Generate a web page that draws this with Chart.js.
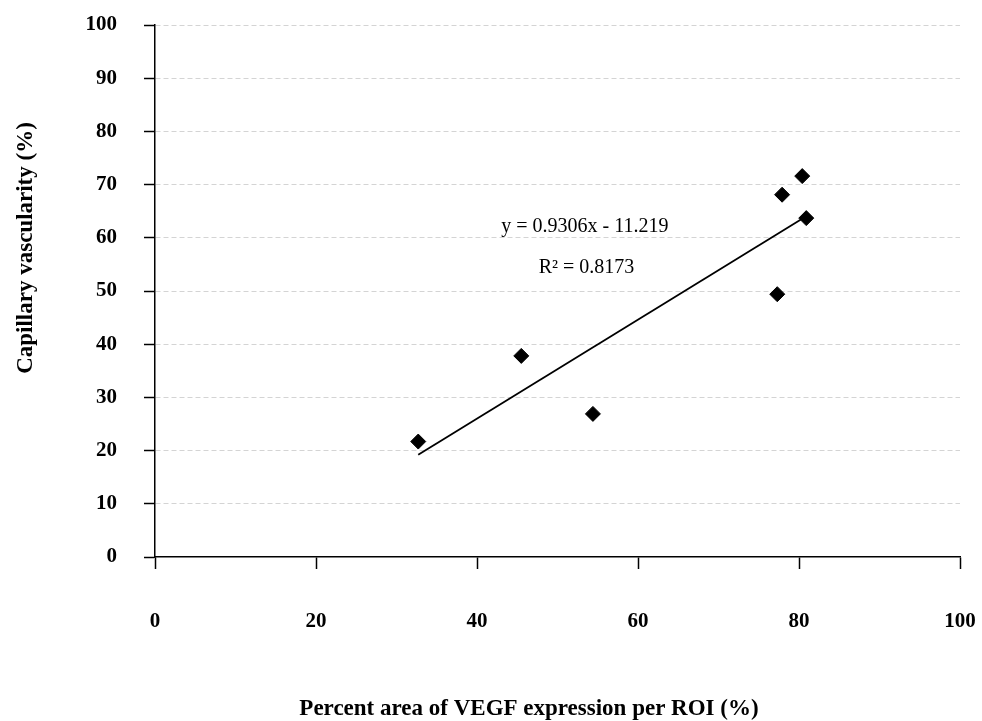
<!DOCTYPE html>
<html>
<head>
<meta charset="utf-8">
<script src="https://cdn.jsdelivr.net/npm/chart.js@4/dist/chart.umd.min.js"></script>
<style>
  html, body { margin: 0; padding: 0; background: #ffffff; }
  #wrap { width: 982px; height: 721px; }
</style>
</head>
<body>
<div id="wrap"><canvas id="c" width="982" height="721"></canvas></div>
<script>
// VEGF expression area (%) vs capillary vascularity (%)
const vegfArea = [32.7, 45.5, 54.4, 77.3, 77.9, 80.4, 80.9];
const vascularity = [21.7, 37.8, 26.9, 49.4, 68.1, 71.6, 63.7];

// Linear fit reported on the chart
const slope = 0.9306;
const intercept = -11.219;
const rSquared = 0.8173;
const equationLabel = 'y = 0.9306x - 11.219';
const r2Label = 'R\u00b2 = 0.8173';

const axisTicks = [0, 10, 20, 30, 40, 50, 60, 70, 80, 90, 100];
const xTickValues = [0, 20, 40, 60, 80, 100];
const xTitle = 'Percent area of VEGF expression per ROI (%)';
const yTitle = 'Capillary vascularity (%)';

const points = vegfArea.map((x, i) => ({ x, y: vascularity[i] }));
const xMin = Math.min(...vegfArea);
const xMax = Math.max(...vegfArea);
const fitLine = [
  { x: xMin, y: slope * xMin + intercept },
  { x: xMax, y: slope * xMax + intercept }
];

const serif = '"Liberation Serif", "Times New Roman", serif';

// Regression equation, R² and the two axis titles
const chartText = {
  id: 'chartText',
  afterDraw(chart) {
    const { ctx, scales: { x, y } } = chart;
    ctx.save();
    ctx.fillStyle = '#000';
    ctx.textAlign = 'center';
    ctx.textBaseline = 'middle';
    ctx.font = '20px ' + serif;
    ctx.fillText(equationLabel, x.getPixelForValue(53.4), y.getPixelForValue(62.0));
    ctx.fillText(r2Label, x.getPixelForValue(53.6), y.getPixelForValue(54.3));

    ctx.font = 'bold 23px ' + serif;
    ctx.textBaseline = 'alphabetic';
    ctx.fillText(xTitle, 529, 715);

    ctx.translate(32, 248);
    ctx.rotate(-Math.PI / 2);
    ctx.fillText(yTitle, 0, 0);
    ctx.restore();
  }
};

new Chart(document.getElementById('c'), {
  type: 'scatter',
  data: {
    datasets: [
      {
        label: 'Samples',
        data: points,
        pointStyle: 'rectRot',
        pointRadius: 7.5,
        pointHoverRadius: 7.5,
        backgroundColor: '#000',
        borderColor: '#000',
        borderWidth: 1,
        order: 1
      },
      {
        label: 'Linear fit',
        type: 'line',
        data: fitLine,
        borderColor: '#000',
        borderWidth: 1.8,
        pointRadius: 0,
        fill: false,
        order: 2
      }
    ]
  },
  options: {
    responsive: false,
    animation: false,
    layout: { padding: { top: 25, right: 22, bottom: 0, left: 0 } },
    plugins: {
      legend: { display: false },
      tooltip: { enabled: false }
    },
    scales: {
      x: {
        type: 'linear',
        min: 0,
        max: 100,
        afterFit(scale) {
          scale.height = 164;
          scale.paddingLeft = 0;
          scale.paddingRight = 0;
        },
        afterBuildTicks(scale) { scale.ticks = xTickValues.map(v => ({ value: v })); },
        border: { display: true, color: '#000', width: 1.5 },
        grid: {
          drawOnChartArea: false,
          drawTicks: true,
          tickLength: 12,
          tickColor: '#000',
          tickWidth: 1.5
        },
        ticks: {
          padding: 40,
          color: '#000',
          font: { family: serif, size: 21, weight: 'bold' }
        },
        title: { display: false }
      },
      y: {
        type: 'linear',
        min: 0,
        max: 100,
        afterFit(scale) {
          scale.width = 155;
          scale.paddingTop = 0;
          scale.paddingBottom = 0;
        },
        afterBuildTicks(scale) { scale.ticks = axisTicks.map(v => ({ value: v })); },
        border: { display: true, color: '#000', width: 1.5, dash: [5, 3] },
        grid: {
          color: (c) => (c.tick && c.tick.value === 0 ? 'rgba(0,0,0,0)' : '#d4d4d4'),
          lineWidth: 1,
          drawTicks: true,
          tickLength: 11,
          tickColor: '#000',
          tickWidth: 1.5,
          tickBorderDash: []
        },
        ticks: {
          padding: 27,
          color: '#000',
          font: { family: serif, size: 21, weight: 'bold' }
        },
        title: { display: false }
      }
    }
  },
  plugins: [chartText]
});
</script>
</body>
</html>
